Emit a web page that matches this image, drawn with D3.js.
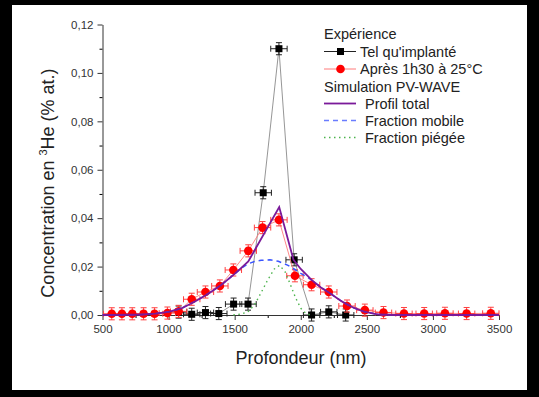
<!DOCTYPE html>
<html>
<head>
<meta charset="utf-8">
<script src="https://cdn.jsdelivr.net/npm/d3@7"></script>
<style>
  body { margin: 0; background: #000; }
  svg { display: block; font-family: 'Liberation Sans', Arial, sans-serif; }
</style>
</head>
<body>
<div id="chart"></div>
<script>
// Data
// Expérience : tel qu'implanté
const implDepth = [1076, 1175, 1279, 1380, 1492, 1601, 1716, 1835, 1950, 2082, 2212, 2340];
const implConc = [0.0012, 0.0003, 0.001, 0.0006, 0.0045, 0.0045, 0.0505, 0.110, 0.0228, 0.0, 0.0013, 0.0];

// Expérience : après 1h30 à 25°C
const recuitDepth = [570, 647, 725, 811, 894, 991, 1076, 1175, 1279, 1388, 1490, 1603, 1711, 1835, 1956,
  2082, 2212, 2350, 2485, 2626, 2781, 2934, 3091, 3255, 3438];
const recuitConc = [0.0005, 0.0005, 0.0005, 0.0005, 0.0005, 0.0008, 0.0015, 0.0065, 0.0095, 0.012, 0.0186,
  0.0265, 0.0361, 0.0393, 0.0162, 0.0125, 0.0095, 0.0037, 0.002, 0.001, 0.0006, 0.0006, 0.0007, 0.0006, 0.0007];

// Simulation PV-WAVE
const totalDepth = [500, 600, 700, 800, 900, 1000, 1100, 1200, 1300, 1400, 1500, 1550, 1603, 1837, 1945,
  2000, 2082, 2150, 2221, 2300, 2347, 2400, 2473, 2550, 2600, 2700, 3500];
const totalConc = [0, 0, 0.0001, 0.0002, 0.0006, 0.0013, 0.0028, 0.0056, 0.0088, 0.0125, 0.017, 0.0195,
  0.0221, 0.0446, 0.0228, 0.019, 0.0145, 0.0115, 0.009, 0.006, 0.0045, 0.003, 0.0015, 0.0006, 0.0002, 0, 0];

const mobileDepth = [500, 600, 700, 800, 900, 1000, 1100, 1200, 1300, 1400, 1500, 1550, 1600, 1650, 1700,
  1767, 1830, 1900, 1950, 2000, 2050, 2082, 2150, 2221, 2300, 2347, 2400, 2473, 2550, 2600, 2700, 3500];
const mobileConc = [0, 0, 0.0001, 0.0002, 0.0006, 0.0013, 0.0028, 0.0056, 0.0088, 0.0125, 0.017, 0.0193,
  0.0211, 0.0221, 0.0226, 0.0228, 0.0222, 0.0206, 0.019, 0.0172, 0.0156, 0.0145, 0.0115, 0.009, 0.006,
  0.0045, 0.003, 0.0015, 0.0006, 0.0002, 0, 0];

const piegeDepth = [1490, 1550, 1600, 1650, 1700, 1750, 1800, 1840, 1880, 1920, 1960, 2000, 2040, 2075];
const piegeConc = [0, 0.0004, 0.0013, 0.0042, 0.0092, 0.0145, 0.019, 0.0205, 0.018, 0.0128, 0.0072, 0.0028, 0.0006, 0];

const xTicks = [500, 1000, 1500, 2000, 2500, 3000, 3500];
const yTicks = [0, 0.02, 0.04, 0.06, 0.08, 0.10, 0.12];

const errX = 62;
const errY = 0.0025;

const width = 539;
const height = 397;

const svg = d3
  .select('#chart')
  .append('svg')
  .attr('width', width)
  .attr('height', height);

// white panel inside black frame
svg.append('rect')
  .attr('x', 12).attr('y', 5)
  .attr('width', 515).attr('height', 385)
  .attr('fill', '#fff');

const x = d3.scaleLinear().domain([500, 3500]).range([102.5, 499]);
const y = d3.scaleLinear().domain([0, 0.12]).range([315, 24.5]);

const comma = (f) => (d) => f(d).replace('.', ',');

// minor ticks
const xMinor = d3.range(750, 3500, 500);
const yMinor = d3.range(0.01, 0.12, 0.02);

svg.append('g')
  .attr('transform', 'translate(0,315)')
  .call(d3.axisBottom(x).tickValues(xMinor).tickSize(3).tickFormat(''))
  .call((g) => g.select('.domain').remove());
svg.append('g')
  .attr('transform', 'translate(102.5,0)')
  .call(d3.axisLeft(y).tickValues(yMinor).tickSize(3).tickFormat(''))
  .call((g) => g.select('.domain').remove());

const xAxis = svg.append('g')
  .attr('transform', 'translate(0,315)')
  .call(d3.axisBottom(x).tickValues(xTicks).tickSize(5).tickSizeOuter(0).tickPadding(5).tickFormat(d3.format('d')));
const yAxis = svg.append('g')
  .attr('transform', 'translate(102.5,0)')
  .call(d3.axisLeft(y).tickValues(yTicks).tickSize(5).tickSizeOuter(0).tickPadding(4).tickFormat(comma(d3.format('.2f'))));

[xAxis, yAxis].forEach((g) => {
  g.selectAll('path, line').attr('stroke', '#333');
  g.selectAll('text').attr('fill', '#333').style('font-size', '11.5px').style('font-family', "'Liberation Sans', Arial, sans-serif");
});

// axis titles
svg.append('text')
  .attr('x', 301).attr('y', 364)
  .attr('text-anchor', 'middle')
  .attr('fill', '#222')
  .style('font-size', '18px')
  .text('Profondeur (nm)');

const yLab = svg.append('text')
  .attr('transform', 'translate(54,183) rotate(-90)')
  .attr('text-anchor', 'middle')
  .attr('fill', '#222')
  .style('font-size', '18px');
yLab.append('tspan').text('Concentration en ');
yLab.append('tspan').attr('dy', -7).style('font-size', '11px').text('3');
yLab.append('tspan').attr('dy', 7).text('He (% at.)');

// experimental series
function drawSeries(depths, concs, cfg) {
  const pts = depths.map((d, i) => [d, concs[i]]);
  const g = svg.append('g');
  g.append('path')
    .datum(pts)
    .attr('fill', 'none')
    .attr('stroke', cfg.line)
    .attr('stroke-width', 0.9)
    .attr('d', d3.line().x((d) => x(d[0])).y((d) => y(d[1])));

  const eb = g.selectAll('g.err').data(pts).join('g').attr('stroke', cfg.err).attr('stroke-width', 1);
  eb.append('line')
    .attr('x1', (d) => x(d[0] - errX)).attr('x2', (d) => x(d[0] + errX))
    .attr('y1', (d) => y(d[1])).attr('y2', (d) => y(d[1]));
  eb.append('line')
    .attr('x1', (d) => x(d[0])).attr('x2', (d) => x(d[0]))
    .attr('y1', (d) => y(d[1] - errY)).attr('y2', (d) => y(d[1] + errY));
  [-1, 1].forEach((s) => {
    eb.append('line')
      .attr('x1', (d) => x(d[0] + s * errX)).attr('x2', (d) => x(d[0] + s * errX))
      .attr('y1', (d) => y(d[1]) - 3).attr('y2', (d) => y(d[1]) + 3);
    eb.append('line')
      .attr('x1', (d) => x(d[0]) - 3).attr('x2', (d) => x(d[0]) + 3)
      .attr('y1', (d) => y(d[1] + s * errY)).attr('y2', (d) => y(d[1] + s * errY));
  });

  if (cfg.shape === 'square') {
    g.selectAll('rect.m').data(pts).join('rect')
      .attr('x', (d) => x(d[0]) - 3.5).attr('y', (d) => y(d[1]) - 3.5)
      .attr('width', 7).attr('height', 7)
      .attr('fill', cfg.fill);
  } else {
    g.selectAll('circle.m').data(pts).join('circle')
      .attr('cx', (d) => x(d[0])).attr('cy', (d) => y(d[1]))
      .attr('r', 4.3)
      .attr('fill', cfg.fill);
  }
}

drawSeries(implDepth, implConc, { line: '#8a8a8a', err: '#222', fill: '#000', shape: 'square' });
drawSeries(recuitDepth, recuitConc, { line: '#ff7a7a', err: '#ff4040', fill: '#ff0000', shape: 'circle' });

// simulation curves
const simLine = d3.line().x((d) => x(d[0])).y((d) => y(d[1]));
function drawCurve(depths, concs, color, w, dash) {
  svg.append('path')
    .datum(depths.map((d, i) => [d, concs[i]]))
    .attr('fill', 'none')
    .attr('stroke', color)
    .attr('stroke-width', w)
    .attr('stroke-dasharray', dash)
    .attr('d', simLine);
}
drawCurve(piegeDepth, piegeConc, '#4cb34c', 1.4, '1.5,3.5');
drawCurve(mobileDepth, mobileConc, '#3a55ff', 1.5, '5,4');
drawCurve(totalDepth, totalConc, '#7a1a9a', 1.8, null);

// legend
const legend = svg.append('g').attr('class', 'legend').style('font-size', '14.5px').attr('fill', '#222');
const lx = 324;
const rowY = [34, 51.5, 69, 86.5, 103.5, 120.5, 137.5];

legend.append('text').attr('x', lx).attr('y', rowY[0] + 5).text('Expérience');
legend.append('line').attr('x1', lx).attr('x2', lx + 32).attr('y1', rowY[1]).attr('y2', rowY[1]).attr('stroke', '#222');
legend.append('rect').attr('x', lx + 13).attr('y', rowY[1] - 3.5).attr('width', 7).attr('height', 7).attr('fill', '#000');
legend.append('text').attr('x', lx + 36).attr('y', rowY[1] + 5).text("Tel qu'implanté");
legend.append('line').attr('x1', lx).attr('x2', lx + 32).attr('y1', rowY[2]).attr('y2', rowY[2]).attr('stroke', '#ff7a7a');
legend.append('circle').attr('cx', lx + 16.5).attr('cy', rowY[2]).attr('r', 4.3).attr('fill', '#ff0000');
legend.append('text').attr('x', lx + 36).attr('y', rowY[2] + 5).text('Après 1h30 à 25°C');
legend.append('text').attr('x', lx).attr('y', rowY[3] + 5).text('Simulation PV-WAVE');

const simLegend = [
  ['Profil total', '#7a1a9a', 1.8, null],
  ['Fraction mobile', '#6a7cff', 1.5, '5,4'],
  ['Fraction piégée', '#4cb34c', 1.4, '1.5,3.5'],
];
simLegend.forEach((s, i) => {
  const yy = rowY[4 + i];
  legend.append('line').attr('x1', lx).attr('x2', lx + 32).attr('y1', yy).attr('y2', yy)
    .attr('stroke', s[1]).attr('stroke-width', s[2]).attr('stroke-dasharray', s[3]);
  legend.append('text').attr('x', lx + 41).attr('y', yy + 5).text(s[0]);
});
</script>
</body>
</html>
